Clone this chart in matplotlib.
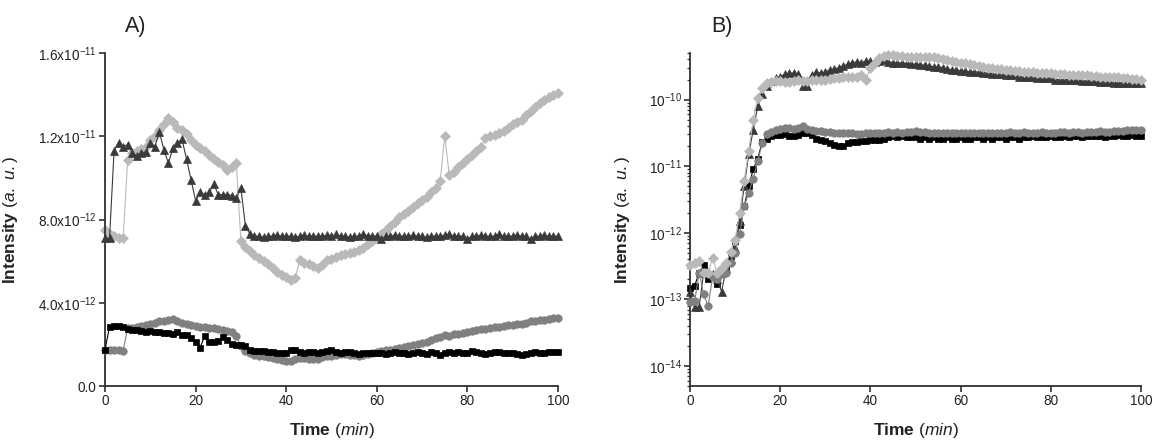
import numpy as np
import matplotlib
matplotlib.use("Agg")
import matplotlib.pyplot as plt
from matplotlib.ticker import FixedLocator, LogLocator, NullFormatter, NullLocator

plt.rcParams['font.family'] = ['Liberation Sans', 'DejaVu Sans']
plt.rcParams['mathtext.fontset'] = 'custom'
plt.rcParams['mathtext.rm'] = 'Liberation Sans'
plt.rcParams['mathtext.it'] = 'Liberation Sans:italic'
plt.rcParams['mathtext.bf'] = 'Liberation Sans:bold'

# ---------------- Panel A data (units of 1e-12, t = 0..100 min) ----------------
time_min = np.arange(0, 101)

tri_A = [7.1, 7.1, 11.3, 11.7, 11.5, 11.6, 11.2, 11.05, 11.2, 11.25,
         11.7, 11.5, 12.2, 11.35, 10.7, 11.45, 11.7, 11.85, 10.9, 9.9,
         8.9, 9.3, 9.2, 9.3, 9.7, 9.2, 9.2, 9.2, 9.15, 9.05,
         9.5, 7.7, 7.3, 7.2, 7.2, 7.15, 7.2, 7.2, 7.25, 7.2,
         7.2, 7.2, 7.15, 7.2, 7.25, 7.2, 7.2, 7.2, 7.2, 7.25,
         7.2, 7.3, 7.2, 7.2, 7.15, 7.2, 7.2, 7.3, 7.2, 7.2,
         7.2, 7.05, 7.2, 7.2, 7.25, 7.2, 7.2, 7.2, 7.25, 7.2,
         7.2, 7.15, 7.2, 7.2, 7.2, 7.25, 7.3, 7.2, 7.2, 7.2,
         7.05, 7.2, 7.2, 7.25, 7.2, 7.2, 7.2, 7.3, 7.2, 7.2,
         7.2, 7.25, 7.2, 7.2, 7.05, 7.2, 7.2, 7.25, 7.2, 7.2,
         7.2]

dia_A = [7.5, 7.3, 7.2, 7.1, 7.1, 10.85, 11.2, 11.3, 11.4, 11.5,
         11.8, 12.0, 12.3, 12.6, 12.9, 12.7, 12.4, 12.3, 12.1, 11.8,
         11.6, 11.45, 11.3, 11.1, 10.9, 10.75, 10.6, 10.4, 10.5, 10.7,
         6.95, 6.7, 6.5, 6.3, 6.15, 6.0, 5.85, 5.65, 5.5, 5.35,
         5.25, 5.1, 5.2, 6.05, 5.9, 5.85, 5.75, 5.65, 5.8, 6.05,
         6.1, 6.2, 6.3, 6.35, 6.4, 6.45, 6.55, 6.65, 6.8, 6.95,
         7.1, 7.3, 7.5, 7.7, 7.9, 8.1, 8.25, 8.4, 8.6, 8.8,
         8.95, 9.1, 9.3, 9.5, 9.85, 12.0, 10.15, 10.3, 10.5, 10.7,
         10.9, 11.1, 11.3, 11.5, 11.9, 12.0, 12.05, 12.15, 12.25, 12.4,
         12.6, 12.7, 12.8, 13.0, 13.2, 13.4, 13.6, 13.75, 13.9, 14.0,
         14.1]

sq_A = [1.75, 2.85, 2.9, 2.9, 2.85, 2.75, 2.7, 2.7, 2.65, 2.6,
        2.65, 2.6, 2.6, 2.55, 2.55, 2.5, 2.6, 2.45, 2.45, 2.3,
        2.1, 1.85, 2.4, 2.1, 2.1, 2.15, 2.35, 2.2, 2.0, 1.95,
        1.95, 1.9, 1.75, 1.7, 1.7, 1.68, 1.65, 1.65, 1.6, 1.58,
        1.6, 1.72, 1.75, 1.65, 1.6, 1.65, 1.62, 1.6, 1.65, 1.7,
        1.72, 1.65, 1.6, 1.62, 1.65, 1.6, 1.55, 1.6, 1.58, 1.6,
        1.58, 1.6, 1.55, 1.6, 1.62, 1.58, 1.6, 1.55, 1.6, 1.65,
        1.6, 1.55, 1.62, 1.6, 1.5, 1.6, 1.62, 1.6, 1.65, 1.6,
        1.6, 1.68, 1.62, 1.6, 1.55, 1.6, 1.62, 1.65, 1.6, 1.58,
        1.6, 1.55, 1.5, 1.55, 1.6, 1.62, 1.6, 1.58, 1.62, 1.65,
        1.65]

circ_A = [1.75, 1.75, 1.75, 1.72, 1.7, 2.78, 2.8, 2.85, 2.9, 2.95,
          3.0, 3.05, 3.1, 3.1, 3.15, 3.2, 3.1, 3.05, 3.0, 2.95,
          2.9, 2.85, 2.82, 2.78, 2.78, 2.72, 2.7, 2.65, 2.6, 2.4,
          1.9, 1.7, 1.6, 1.5, 1.45, 1.42, 1.4, 1.35, 1.3, 1.25,
          1.2, 1.18, 1.3, 1.35, 1.35, 1.3, 1.3, 1.32, 1.4, 1.42,
          1.45, 1.5, 1.55, 1.52, 1.5, 1.48, 1.45, 1.5, 1.55, 1.6,
          1.65, 1.7, 1.72, 1.75, 1.8, 1.85, 1.88, 1.92, 1.95, 2.0,
          2.05, 2.1, 2.2, 2.3, 2.35, 2.45, 2.4, 2.48, 2.52, 2.55,
          2.6, 2.62, 2.7, 2.72, 2.75, 2.8, 2.85, 2.82, 2.88, 2.92,
          2.95, 2.98, 3.0, 3.05, 3.1, 3.12, 3.15, 3.18, 3.2, 3.25,
          3.28]

# ---------------- Panel B data (absolute intensity, t = 0..100 min) ----------------
sq_B = [1.5e-13, 1.6e-13, 2.5e-13, 3.3e-13, 2.0e-13, 2.3e-13, 1.7e-13, 2.4e-13, 3.0e-13, 4.5e-13,
        7.5e-13, 1.3e-12, 2.5e-12, 5.0e-12, 9.0e-12, 1.3e-11, 2.3e-11, 2.6e-11, 2.8e-11, 2.9e-11,
        2.9e-11, 3.0e-11, 2.8e-11, 2.8e-11, 2.9e-11, 3.1e-11, 3.2e-11, 2.9e-11, 2.6e-11, 2.5e-11,
        2.4e-11, 2.2e-11, 2.1e-11, 2.0e-11, 2.0e-11, 2.2e-11, 2.3e-11, 2.3e-11, 2.4e-11, 2.4e-11,
        2.5e-11, 2.5e-11, 2.5e-11, 2.6e-11, 2.7e-11, 2.8e-11, 2.7e-11, 2.8e-11, 2.7e-11, 2.7e-11,
        2.7e-11, 2.6e-11, 2.7e-11, 2.6e-11, 2.7e-11, 2.6e-11, 2.6e-11, 2.7e-11, 2.6e-11, 2.6e-11,
        2.7e-11, 2.6e-11, 2.6e-11, 2.7e-11, 2.7e-11, 2.6e-11, 2.7e-11, 2.6e-11, 2.7e-11, 2.7e-11,
        2.6e-11, 2.7e-11, 2.7e-11, 2.6e-11, 2.7e-11, 2.7e-11, 2.8e-11, 2.7e-11, 2.7e-11, 2.7e-11,
        2.8e-11, 2.7e-11, 2.7e-11, 2.8e-11, 2.7e-11, 2.8e-11, 2.8e-11, 2.7e-11, 2.8e-11, 2.8e-11,
        2.8e-11, 2.8e-11, 2.7e-11, 2.8e-11, 2.8e-11, 2.9e-11, 2.8e-11, 2.8e-11, 2.9e-11, 2.8e-11,
        2.8e-11]

circ_B = [9.0e-14, 9.3e-14, 2.5e-13, 1.2e-13, 7.9e-14, 2.2e-13, 2.0e-13, 2.4e-13, 2.5e-13, 3.5e-13,
          5.0e-13, 9.5e-13, 2.5e-12, 4.0e-12, 6.5e-12, 1.2e-11, 2.2e-11, 3.0e-11, 3.3e-11, 3.5e-11,
          3.6e-11, 3.7e-11, 3.7e-11, 3.6e-11, 3.7e-11, 4.0e-11, 3.6e-11, 3.5e-11, 3.4e-11, 3.4e-11,
          3.3e-11, 3.3e-11, 3.2e-11, 3.2e-11, 3.1e-11, 3.1e-11, 3.1e-11, 3.0e-11, 3.0e-11, 3.1e-11,
          3.1e-11, 3.2e-11, 3.1e-11, 3.2e-11, 3.3e-11, 3.2e-11, 3.3e-11, 3.2e-11, 3.3e-11, 3.3e-11,
          3.4e-11, 3.3e-11, 3.3e-11, 3.2e-11, 3.2e-11, 3.1e-11, 3.2e-11, 3.1e-11, 3.1e-11, 3.2e-11,
          3.1e-11, 3.1e-11, 3.2e-11, 3.1e-11, 3.1e-11, 3.1e-11, 3.2e-11, 3.2e-11, 3.1e-11, 3.2e-11,
          3.2e-11, 3.3e-11, 3.2e-11, 3.2e-11, 3.3e-11, 3.2e-11, 3.2e-11, 3.2e-11, 3.3e-11, 3.2e-11,
          3.2e-11, 3.2e-11, 3.3e-11, 3.3e-11, 3.2e-11, 3.3e-11, 3.3e-11, 3.2e-11, 3.3e-11, 3.3e-11,
          3.3e-11, 3.4e-11, 3.3e-11, 3.3e-11, 3.4e-11, 3.4e-11, 3.4e-11, 3.5e-11, 3.5e-11, 3.5e-11,
          3.5e-11]

tri_B = [1.3e-13, 7.6e-14, 7.6e-14, 2.5e-13, 2.6e-13, 2.4e-13, 2.0e-13, 1.3e-13, 3.0e-13, 4.0e-13,
         6.0e-13, 1.5e-12, 5.0e-12, 1.5e-11, 3.5e-11, 7.9e-11, 1.2e-10, 1.6e-10, 1.9e-10, 2.1e-10,
         2.2e-10, 2.4e-10, 2.5e-10, 2.5e-10, 2.4e-10, 1.6e-10, 1.6e-10, 2.3e-10, 2.6e-10, 2.5e-10,
         2.6e-10, 2.8e-10, 2.9e-10, 3.0e-10, 3.2e-10, 3.4e-10, 3.6e-10, 3.7e-10, 3.6e-10, 3.8e-10,
         3.8e-10, 3.7e-10, 3.8e-10, 3.9e-10, 3.7e-10, 3.6e-10, 3.6e-10, 3.5e-10, 3.5e-10, 3.4e-10,
         3.4e-10, 3.3e-10, 3.3e-10, 3.2e-10, 3.1e-10, 3.1e-10, 3.0e-10, 2.9e-10, 2.8e-10, 2.8e-10,
         2.7e-10, 2.7e-10, 2.6e-10, 2.6e-10, 2.6e-10, 2.5e-10, 2.5e-10, 2.4e-10, 2.4e-10, 2.4e-10,
         2.3e-10, 2.3e-10, 2.3e-10, 2.2e-10, 2.2e-10, 2.2e-10, 2.2e-10, 2.1e-10, 2.1e-10, 2.1e-10,
         2.1e-10, 2.0e-10, 2.0e-10, 2.0e-10, 2.0e-10, 1.95e-10, 1.95e-10, 1.9e-10, 1.9e-10, 1.9e-10,
         1.9e-10, 1.85e-10, 1.85e-10, 1.85e-10, 1.8e-10, 1.8e-10, 1.8e-10, 1.8e-10, 1.75e-10, 1.75e-10,
         1.75e-10]

dia_B = [3.3e-13, 3.5e-13, 3.8e-13, 2.5e-13, 2.5e-13, 4.2e-13, 2.5e-13, 3.0e-13, 3.5e-13, 5.2e-13,
         7.9e-13, 2.0e-12, 6.0e-12, 1.7e-11, 5.0e-11, 1.05e-10, 1.5e-10, 1.75e-10, 1.85e-10, 1.9e-10,
         1.9e-10, 1.85e-10, 1.85e-10, 1.9e-10, 1.95e-10, 1.9e-10, 1.9e-10, 1.95e-10, 2.0e-10, 2.0e-10,
         2.0e-10, 2.05e-10, 2.1e-10, 2.1e-10, 2.15e-10, 2.2e-10, 2.2e-10, 2.2e-10, 2.3e-10, 2.0e-10,
         3.0e-10, 3.6e-10, 4.2e-10, 4.5e-10, 4.7e-10, 4.6e-10, 4.5e-10, 4.5e-10, 4.4e-10, 4.4e-10,
         4.4e-10, 4.3e-10, 4.3e-10, 4.3e-10, 4.3e-10, 4.2e-10, 4.0e-10, 3.9e-10, 3.8e-10, 3.7e-10,
         3.6e-10, 3.5e-10, 3.4e-10, 3.3e-10, 3.2e-10, 3.1e-10, 3.0e-10, 3.0e-10, 2.9e-10, 2.9e-10,
         2.8e-10, 2.8e-10, 2.7e-10, 2.7e-10, 2.6e-10, 2.6e-10, 2.6e-10, 2.5e-10, 2.5e-10, 2.5e-10,
         2.5e-10, 2.4e-10, 2.4e-10, 2.4e-10, 2.35e-10, 2.35e-10, 2.3e-10, 2.3e-10, 2.3e-10, 2.25e-10,
         2.25e-10, 2.2e-10, 2.2e-10, 2.2e-10, 2.15e-10, 2.15e-10, 2.1e-10, 2.1e-10, 2.05e-10, 2.05e-10,
         2.0e-10]

A_yticks = [0.0, 4.0e-12, 8.0e-12, 1.2e-11, 1.6e-11]
A_yticklabels = ["0.0", r"4.0x10$^{-12}$", r"8.0x10$^{-12}$", r"1.2x10$^{-11}$", r"1.6x10$^{-11}$"]
x_ticks = [0, 20, 40, 60, 80, 100]
B_yticks = [1e-14, 1e-13, 1e-12, 1e-11, 1e-10]
B_yticklabels = [r"10$^{-14}$", r"10$^{-13}$", r"10$^{-12}$", r"10$^{-11}$", r"10$^{-10}$"]

C_SQ = "#000000"
C_CI = "#808080"
C_TR = "#3a3a3a"
C_DI = "#b9b9b9"
SPINE = "#303030"
TXT = "#222222"

fig = plt.figure(figsize=(11.54, 4.40), dpi=100)
axA = fig.add_axes([0.091, 0.1227, 0.3925, 0.7568])
axB = fig.add_axes([0.598, 0.1227, 0.3907, 0.7568])

def style(ax):
    for s in ['top', 'right']:
        ax.spines[s].set_visible(False)
    for s in ['left', 'bottom']:
        ax.spines[s].set_linewidth(1.3)
        ax.spines[s].set_color(SPINE)
    ax.tick_params(axis='both', which='major', direction='out', length=4, width=1.2,
                   color=SPINE, labelsize=9.8, labelcolor=TXT, pad=2)
    ax.tick_params(axis='both', which='minor', direction='out', length=2.2, width=0.9, color=SPINE)
    ax.set_xlim(0, 100)
    ax.xaxis.set_major_locator(FixedLocator(x_ticks))
    ax.set_xticklabels([str(v) for v in x_ticks])
    ax.xaxis.set_minor_locator(NullLocator())

def series(ax, y, marker, color, ms, z):
    ax.plot(time_min, y, '-', color=color, lw=0.8, marker=marker, ms=ms,
            mfc=color, mec=color, mew=0.5, zorder=z, clip_on=False)

tA = 1e-12
series(axA, np.array(dia_A) * tA, 'D', C_DI, 4.6, 2)
series(axA, np.array(circ_A) * tA, 'o', C_CI, 5.4, 3)
series(axA, np.array(sq_A) * tA, 's', C_SQ, 4.6, 4)
series(axA, np.array(tri_A) * tA, '^', C_TR, 6.0, 5)
style(axA)
axA.set_ylim(0, 1.6e-11)
axA.yaxis.set_major_locator(FixedLocator(A_yticks))
axA.set_yticklabels(A_yticklabels)

series(axB, sq_B, 's', C_SQ, 4.6, 2)
series(axB, tri_B, '^', C_TR, 6.0, 3)
series(axB, circ_B, 'o', C_CI, 5.4, 4)
series(axB, dia_B, 'D', C_DI, 4.6, 5)
axB.set_yscale('log')
style(axB)
axB.set_ylim(5e-15, 5e-10)
axB.yaxis.set_major_locator(FixedLocator(B_yticks))
axB.set_yticklabels(B_yticklabels)
axB.yaxis.set_minor_locator(LogLocator(base=10, subs=np.arange(2, 10), numticks=20))
axB.yaxis.set_minor_formatter(NullFormatter())

ylab = r"$\mathbf{Intensity}$ $\mathit{(a.\ u.)}$"
xlab = r"$\mathbf{Time}$ $\mathit{(min)}$"
for ax in (axA, axB):
    ax.set_ylabel(ylab, fontsize=12.5, color=TXT)
    ax.set_xlabel(xlab, fontsize=12.5, color=TXT)
axA.yaxis.set_label_coords(-0.188, 0.5)
axB.yaxis.set_label_coords(-0.128, 0.5)
axA.xaxis.set_label_coords(0.5, -0.105)
axB.xaxis.set_label_coords(0.5, -0.105)

fig.text(0.118, 0.939, "A)", fontsize=15.5, ha='center', va='center', color=TXT)
fig.text(0.626, 0.939, "B)", fontsize=15.5, ha='center', va='center', color=TXT)

fig.savefig("out.png", dpi=100, facecolor="white")
